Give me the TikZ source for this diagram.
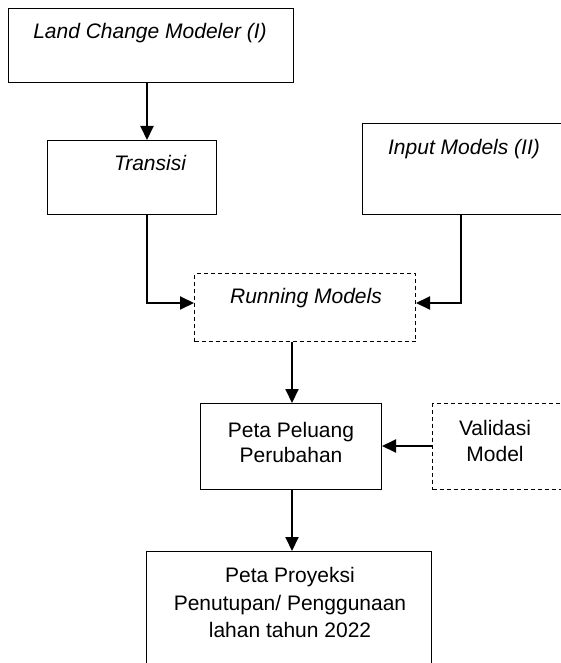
\documentclass[tikz,border=0pt]{standalone}
\usepackage{fontspec}
\setmainfont{Liberation Sans}
\usetikzlibrary{arrows.meta}
\begin{document}
\begin{tikzpicture}[x=1pt,y=-1pt,
  boxa/.style={draw=black,line width=1pt,inner sep=0pt,anchor=north west},
  dbox/.style={boxa,dashed,dash pattern=on 4pt off 3pt},
  txt/.style={inner sep=0pt,anchor=base,font=\fontsize{21}{26}\selectfont},
  itxt/.style={txt,font=\fontsize{21}{26}\selectfont\itshape},
  arr/.style={line width=2pt,-{Triangle[length=14pt,width=13pt]}}]
\useasboundingbox (0,0) rectangle (561,663);
\clip (0,0) rectangle (561,663);
% boxes
\node[boxa,minimum width=285pt,minimum height=74pt] (lcm) at (8,8) {};
\node[boxa,minimum width=169pt,minimum height=74pt] (trans) at (47,140) {};
\node[boxa,minimum width=220pt,minimum height=91pt] (input) at (362,123) {};
\node[dbox,minimum width=221pt,minimum height=68pt] (run) at (194,273) {};
\node[boxa,minimum width=181pt,minimum height=86pt] (pel) at (200,403) {};
\node[dbox,minimum width=150pt,minimum height=86pt] (val) at (432,403) {};
\node[boxa,minimum width=285pt,minimum height=130pt] (proy) at (146,551) {};
% texts
\node[itxt] (lcmt) at (150,39) {Land Change Modeler (I)};
\node[itxt] (transt) at (150,171) {Transisi};
\node[itxt] (inputt) at (464,154) {Input Models (II)};
\node[itxt] (runt) at (306,303) {Running Models};
\node[txt] (pel1) at (291,437) {Peta Peluang};
\node[txt] (pel2) at (291,462) {Perubahan};
\node[txt] (val1) at (495,435) {Validasi};
\node[txt] (val2) at (495,461) {Model};
\node[txt] (proy1) at (290,582) {Peta Proyeksi};
\node[txt] (proy2) at (290,610) {Penutupan/ Penggunaan};
\node[txt] (proy3) at (290,637) {lahan tahun 2022};
% connector coordinates
\coordinate (xa) at (147,0);
\coordinate (xb) at (461,0);
\coordinate (xc) at (292,0);
\coordinate (ya) at (0,303);
\coordinate (yb) at (0,446);
% connectors
\draw[arr] (lcm.south -| xa) -- (trans.north -| xa);
\draw[arr] (trans.south -| xa) |- (run.west |- ya);
\draw[arr] (input.south -| xb) |- (run.east |- ya);
\draw[arr] (run.south -| xc) -- (pel.north -| xc);
\draw[arr] (val.west |- yb) -- (pel.east |- yb);
\draw[arr] (pel.south -| xc) -- (proy.north -| xc);
\end{tikzpicture}
\end{document}
